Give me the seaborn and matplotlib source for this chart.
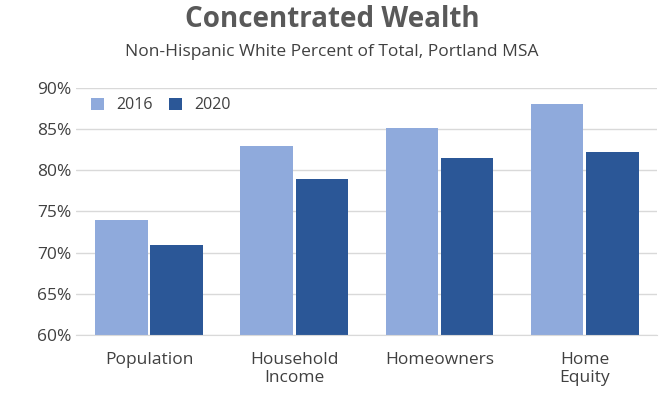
import matplotlib
matplotlib.use("Agg")
import matplotlib.pyplot as plt
import seaborn as sns
import pandas as pd
from matplotlib.ticker import FuncFormatter

categories = ["Population", "Household\nIncome", "Homeowners", "Home\nEquity"]
vals_2016 = [74.0, 83.0, 85.1, 88.0]
vals_2020 = [70.9, 78.9, 81.5, 82.2]

df = pd.DataFrame({
    "category": categories * 2,
    "year": ["2016"] * 4 + ["2020"] * 4,
    "value": vals_2016 + vals_2020,
})

sns.set_style("white")
plt.rcParams['font.family'] = ['Open Sans', 'DejaVu Sans']

fig = plt.figure(figsize=(6.64, 4.15), dpi=100)
ax = fig.add_axes([0.115, 0.193, 0.875, 0.595])
sns.barplot(data=df, x="category", y="value", hue="year",
            palette={"2016": "#8FAADC", "2020": "#2B5797"},
            saturation=1, width=0.76, gap=0.05, linewidth=0, ax=ax)
ax.set_ylim(60, 90)
ax.set_yticks(range(60, 91, 5))
ax.yaxis.set_major_formatter(FuncFormatter(lambda v, p: f"{int(v)}%"))
ax.grid(axis="y", color="#D9D9D9", linewidth=1)
ax.set_axisbelow(True)
for s in ["top", "right", "left"]:
    ax.spines[s].set_visible(False)
ax.spines["bottom"].set_color("#D9D9D9")
ax.tick_params(axis="both", labelsize=12.5, colors="#404040", length=0)
ax.tick_params(axis="x", pad=12)
ax.set_xlabel("")
ax.set_ylabel("")
ax.legend(title=None, loc="upper left", frameon=False, ncol=2, fontsize=11.5,
          handlelength=0.8, handleheight=0.8, columnspacing=1.0,
          bbox_to_anchor=(0.0, 1.02), labelcolor="#404040")
fig.text(0.5, 0.935, "Concentrated Wealth", ha="center", fontsize=20,
         fontweight="bold", color="#595959")
fig.text(0.5, 0.865, "Non-Hispanic White Percent of Total, Portland MSA",
         ha="center", fontsize=12.5, color="#404040")
fig.savefig("out.png", dpi=100)
